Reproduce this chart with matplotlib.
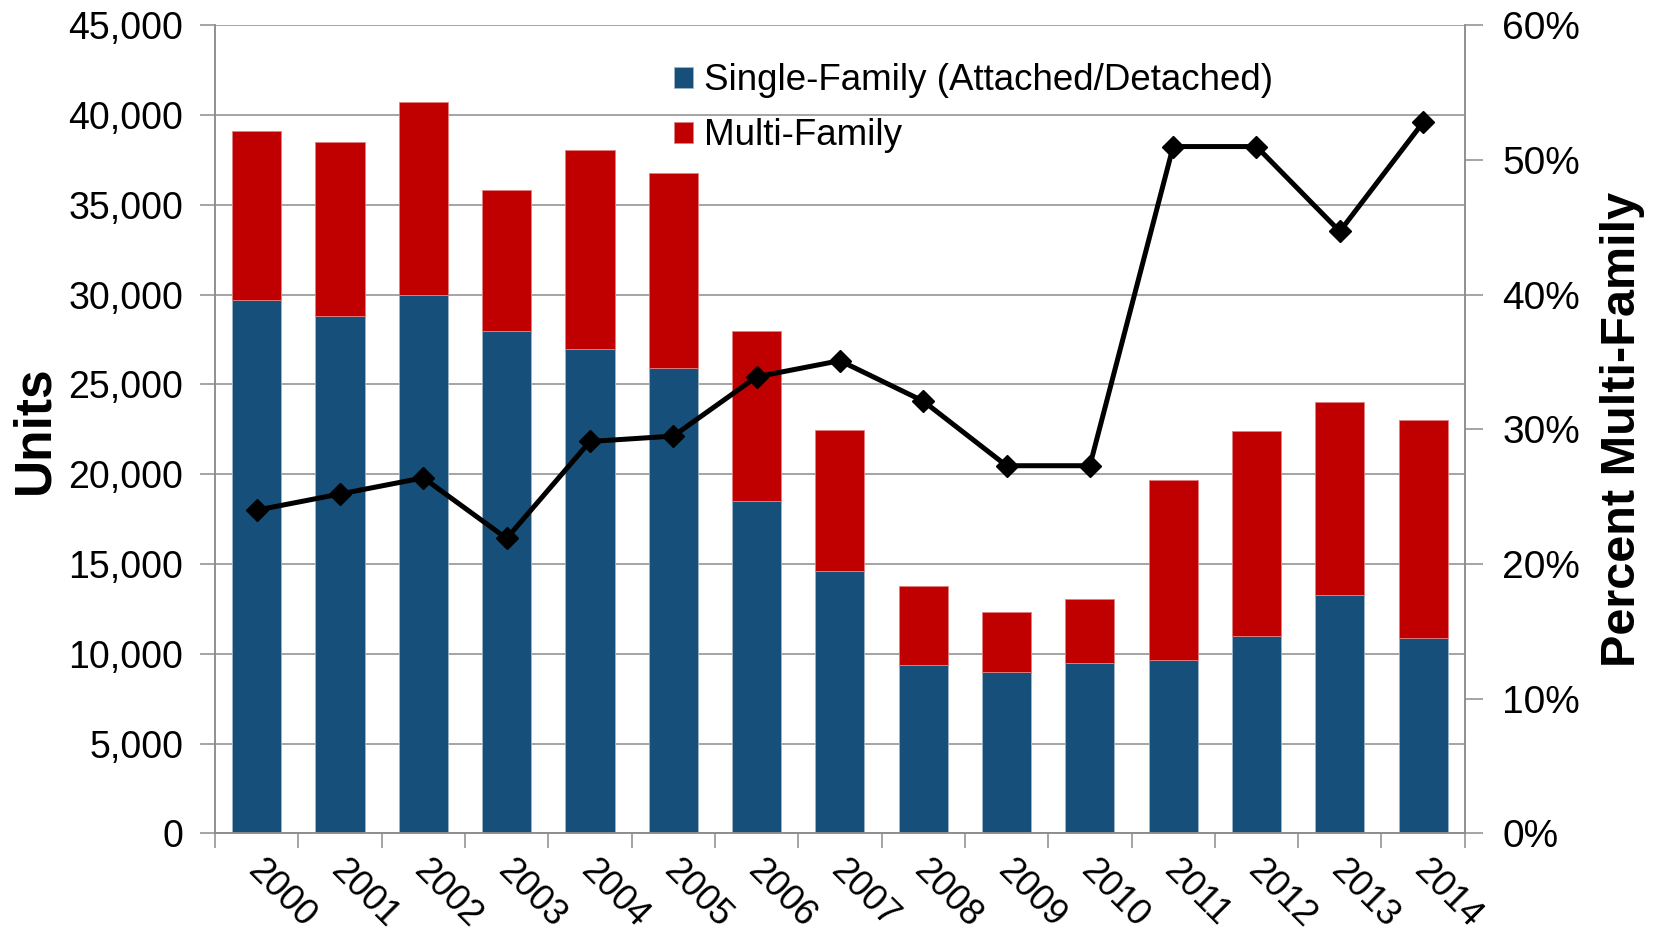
import matplotlib
matplotlib.use("Agg")
import matplotlib.pyplot as plt
import numpy as np
from matplotlib.ticker import FuncFormatter, MultipleLocator

plt.rcParams.update({
    "font.family": ["Liberation Sans", "DejaVu Sans"],
    "font.size": 26,
})

# ---- data ----
years = ["2000", "2001", "2002", "2003", "2004", "2005", "2006", "2007",
         "2008", "2009", "2010", "2011", "2012", "2013", "2014"]
single_family = [29700, 28800, 30000, 28000, 27000, 25900, 18500, 14600,
                 9350, 9000, 9500, 9650, 11000, 13300, 10900]
multi_family = [9400, 9700, 10750, 7850, 11050, 10900, 9450, 7850,
                4400, 3350, 3550, 10050, 11400, 10750, 12100]
pct_multi = [24.0, 25.2, 26.4, 21.9, 29.1, 29.5, 33.9, 35.1,
             32.1, 27.3, 27.3, 51.0, 51.0, 44.7, 52.8]

blue = "#16507A"
red = "#C00000"
grid_gray = "#8C8C8C"

fig = plt.figure(figsize=(16.63, 9.39), dpi=100)
ax = fig.add_axes([0.1293, 0.1125, 0.7515, 0.8605])
x = np.arange(len(years))

ax.bar(x, single_family, width=0.59, color=blue, edgecolor="#9FB3C6",
       linewidth=0.6, label="Single-Family (Attached/Detached)", zorder=2)
ax.bar(x, multi_family, width=0.59, bottom=single_family, color=red,
       edgecolor="#E08080", linewidth=0.6, label="Multi-Family", zorder=2)

ax.set_xlim(-0.5, len(years) - 0.5)
ax.set_ylim(0, 45000)
ax.yaxis.set_major_locator(MultipleLocator(5000))
ax.yaxis.set_major_formatter(FuncFormatter(lambda v, p: f"{v:,.0f}"))
ax.grid(axis="y", color=grid_gray, linewidth=1.1, zorder=0)
ax.set_axisbelow(True)

# ticks between categories on the x axis
ax.set_xticks(np.arange(-0.5, len(years), 1.0), minor=False)
ax.set_xticklabels([])
ax.set_xticks(x + 0.1, minor=True)
ax.set_xticklabels(years, minor=True, rotation=-45, ha="left", va="top",
                   rotation_mode="anchor", fontsize=26)
ax.tick_params(axis="x", which="minor", length=0, pad=14)
ax.tick_params(axis="x", which="major", length=11, width=1.1,
               color=grid_gray, direction="out")
ax.tick_params(axis="y", length=11, width=1.1, color=grid_gray, pad=12,
               labelsize=27)

for side in ["left", "bottom", "right"]:
    ax.spines[side].set_color(grid_gray)
    ax.spines[side].set_linewidth(1.1)
ax.spines["top"].set_visible(False)

ax.set_ylabel("Units", fontsize=37, fontweight="bold", labelpad=6)

ax2 = ax.twinx()
ax2.plot(x, pct_multi, color="black", linewidth=3.6, marker="D",
         markersize=11, zorder=3)
ax2.set_ylim(0, 60)
ax2.yaxis.set_major_locator(MultipleLocator(10))
ax2.yaxis.set_major_formatter(FuncFormatter(lambda v, p: f"{v:.0f}%"))
ax2.tick_params(axis="y", length=13, width=1.1, color=grid_gray, pad=14,
                labelsize=28)
for side in ["left", "bottom", "right"]:
    ax2.spines[side].set_color(grid_gray)
    ax2.spines[side].set_linewidth(1.1)
ax2.spines["top"].set_visible(False)
ax2.set_ylabel("Percent Multi-Family", fontsize=35, fontweight="bold",
               labelpad=14)

ax.legend(loc="upper left", bbox_to_anchor=(0.347, 0.985), frameon=False,
          fontsize=26.5, handlelength=0.5, handleheight=0.5,
          handletextpad=0.3, labelspacing=0.55, borderpad=0.2)

fig.savefig("out.png", dpi=100)
